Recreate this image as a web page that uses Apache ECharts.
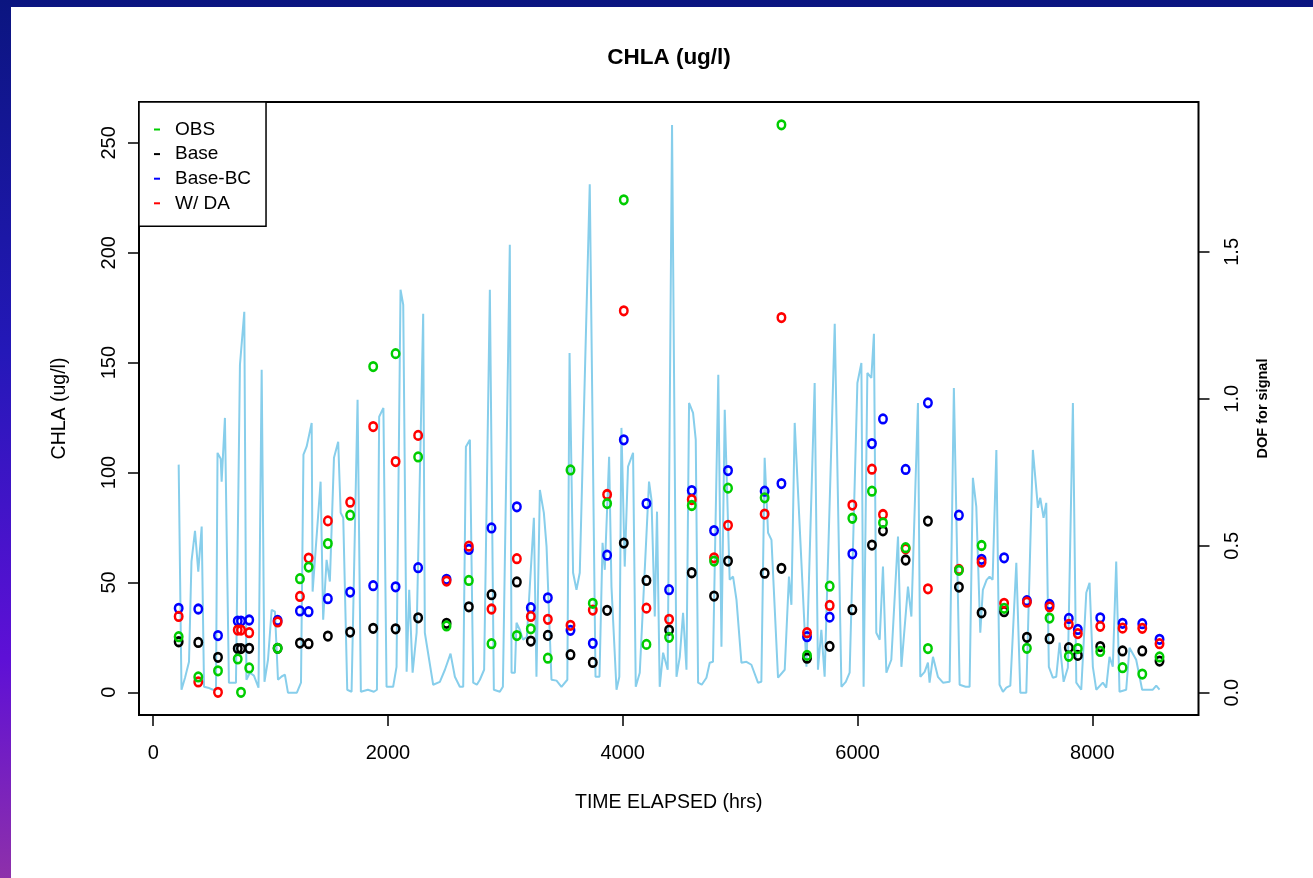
<!DOCTYPE html>
<html>
<head>
<meta charset="utf-8">
<script src="https://cdn.jsdelivr.net/npm/echarts@6/dist/echarts.min.js"></script>
<style>
html,body{margin:0;padding:0;}
#chart{width:1313px;height:878px;}
</style>
</head>
<body>
<div id="chart"></div>
<script>
// Observation times (hours elapsed)
const timeHrs = [217,384,552,720,748,818,1060,1250,1324,1488,1678,1874,2065,2257,2499,2689,2882,3098,3217,3362,3555,3745,3867,4009,4202,4395,4588,4778,4897,5209,5352,5570,5763,5956,6123,6217,6410,6600,6864,7057,7249,7443,7636,7800,7877,8068,8258,8426,8573];
const obs = [25.3,7.0,9.8,15.2,0.0,11.1,20.0,51.7,57.0,67.7,80.6,148.2,154.1,107.1,30.2,50.9,22.1,25.8,28.9,15.5,101.2,40.5,85.9,224.1,21.8,25.0,85.0,59.7,92.9,88.5,258.2,16.8,48.3,79.2,91.5,77.1,65.8,19.9,55.5,66.8,38.2,20.0,33.8,16.4,19.9,18.6,11.2,8.3,16.1];
const base = [23.0,22.7,15.9,19.9,19.9,20.0,20.0,22.4,22.1,25.6,27.4,29.1,28.9,33.9,31.4,38.9,44.4,50.2,23.3,25.9,17.1,13.6,37.3,67.9,50.9,28.3,54.4,43.8,59.7,54.2,56.4,15.5,20.9,37.6,67.0,73.5,60.2,77.9,47.9,36.2,36.7,25.0,24.4,20.3,16.8,20.8,18.8,18.8,14.2];
const baseBC = [38.2,37.9,25.8,32.4,32.4,32.9,32.7,37.0,36.7,42.6,45.6,48.5,48.0,56.7,51.4,65.0,74.8,84.4,38.5,43.0,28.2,22.3,62.4,114.9,85.9,46.7,91.8,73.6,100.9,91.5,95.0,25.3,34.2,63.0,113.2,124.4,101.4,131.7,80.6,60.5,61.2,41.7,40.0,33.6,28.6,33.9,31.4,31.2,24.1];
const withDA = [34.5,4.7,0.0,28.3,28.3,27.1,32.0,43.6,61.1,78.0,86.5,120.9,105.0,116.9,50.6,66.5,37.9,60.8,34.5,33.2,30.5,37.4,90.0,173.6,38.3,33.2,87.7,61.2,76.0,81.1,170.5,27.1,39.5,85.2,101.5,80.9,65.3,47.1,55.9,59.2,40.5,41.0,38.9,30.9,26.7,30.0,29.2,29.1,22.1];

// DOF for signal (right axis)
const dofTime = [217,241,271,305,326,356,384,413,433,467,509,535,548,575,583,611,645,705,739,776,794,824,858,897,924,948,978,1009,1037,1063,1094,1122,1148,1224,1259,1280,1307,1350,1358,1426,1448,1477,1505,1540,1576,1597,1619,1653,1690,1741,1769,1829,1880,1906,1925,1961,1988,2044,2073,2107,2130,2159,2181,2210,2244,2300,2314,2385,2442,2485,2533,2570,2612,2641,2664,2698,2726,2757,2783,2819,2868,2902,2953,2979,3038,3053,3081,3095,3123,3151,3183,3243,3265,3294,3328,3351,3393,3436,3478,3528,3547,3577,3606,3634,3719,3768,3802,3828,3847,3884,3904,3947,3971,3989,4017,4045,4088,4111,4145,4224,4245,4273,4292,4315,4344,4383,4420,4458,4486,4514,4543,4565,4599,4622,4642,4673,4713,4741,4769,4814,4841,4869,4911,4940,4969,5011,5054,5096,5152,5181,5209,5238,5267,5323,5380,5416,5437,5465,5565,5635,5663,5692,5720,5771,5806,5863,5900,5933,5999,6033,6052,6084,6118,6140,6160,6189,6217,6246,6288,6345,6374,6430,6459,6515,6535,6572,6600,6614,6643,6685,6728,6785,6821,6870,6921,6955,6983,7012,7046,7068,7100,7125,7151,7183,7210,7239,7268,7302,7324,7353,7387,7438,7494,7537,7557,7585,7608,7630,7664,7693,7722,7756,7792,7835,7864,7906,7949,7977,8005,8034,8090,8119,8147,8175,8204,8232,8289,8317,8374,8425,8516,8545,8573];
const dofValue = [0.776,0.010,0.051,0.105,0.446,0.551,0.412,0.565,0.020,0.017,0.010,0.010,0.816,0.796,0.718,0.935,0.034,0.034,1.116,1.296,0.044,0.068,0.058,0.017,1.099,0.037,0.112,0.282,0.276,0.044,0.055,0.061,0.0,0.0,0.034,0.810,0.837,0.918,0.344,0.718,0.248,0.452,0.378,0.799,0.854,0.612,0.595,0.010,0.003,0.997,0.003,0.010,0.003,0.010,0.939,0.969,0.020,0.020,0.088,1.371,1.320,0.071,0.350,0.068,0.204,1.289,0.204,0.027,0.037,0.078,0.133,0.054,0.020,0.020,0.837,0.861,0.034,0.027,0.044,0.078,1.371,0.010,0.003,0.020,1.524,0.068,0.068,0.238,0.214,0.180,0.190,0.595,0.054,0.690,0.612,0.497,0.044,0.041,0.020,0.044,1.156,0.408,0.350,0.408,1.730,0.054,0.054,0.510,0.418,0.803,0.361,0.010,0.054,0.901,0.429,0.769,0.816,0.020,0.068,0.718,0.656,0.259,0.616,0.020,0.136,0.078,1.932,0.054,0.122,0.272,0.078,0.986,0.952,0.861,0.034,0.027,0.051,0.102,0.105,1.082,0.156,0.963,0.384,0.395,0.316,0.102,0.105,0.095,0.034,0.037,0.799,0.544,0.520,0.051,0.078,0.395,0.299,0.918,0.088,1.054,0.078,0.214,0.054,0.758,1.255,0.020,0.037,0.068,1.054,1.122,0.020,1.088,1.071,1.221,0.204,0.180,0.429,0.068,0.112,0.531,0.088,0.361,0.259,0.986,0.054,0.071,0.102,0.034,0.122,0.054,0.034,0.037,1.037,0.027,0.020,0.020,0.731,0.633,0.204,0.350,0.384,0.395,0.384,0.826,0.027,0.003,0.017,0.024,0.204,0.442,0.0,0.0,0.826,0.629,0.663,0.595,0.646,0.088,0.051,0.054,0.170,0.037,0.085,0.986,0.034,0.010,0.340,0.374,0.088,0.010,0.034,0.017,0.122,0.088,0.446,0.003,0.010,0.153,0.112,0.010,0.010,0.024,0.010];

// Tick labels
const xTicks = [0, 2000, 4000, 6000, 8000];
const yTicks = [0, 50, 100, 150, 200, 250];
const dofTicks = [0, 0.5, 1.0, 1.5];

const FONT = '"Liberation Sans", Arial, Helvetica, sans-serif';
const COL = { OBS: '#00CD00', Base: '#000000', 'Base-BC': '#0000FF', 'W/ DA': '#FF0000' };

function pts(ys) { return timeHrs.map((t, i) => [t, ys[i]]); }
function scatter(name, ys) {
  return {
    name: name, type: 'scatter', yAxisIndex: 0, data: pts(ys),
    symbol: 'circle', symbolSize: [7.5, 8.5],
    itemStyle: { color: 'rgba(0,0,0,0)', borderColor: COL[name], borderWidth: 2.6, opacity: 1 },
    z: 5, silent: true, animation: false
  };
}

const chart = echarts.init(document.getElementById('chart'), null, { renderer: 'canvas' });
chart.setOption({
  animation: false,
  backgroundColor: {
    type: 'linear', x: 0, y: 0, x2: 0, y2: 1,
    colorStops: [
      { offset: 0, color: '#0b1580' },
      { offset: 0.4, color: '#2418b8' },
      { offset: 0.75, color: '#5e10d6' },
      { offset: 1, color: '#8e30aa' }
    ]
  },
  graphic: [{
    type: 'rect', z: -10, silent: true,
    shape: { x: 11, y: 7, width: 1313 - 11, height: 878 - 7 },
    style: { fill: '#ffffff' }
  }],
  title: {
    text: 'CHLA (ug/l)', left: 664, top: 41, textAlign: 'center',
    textStyle: { fontFamily: FONT, fontSize: 22.5, fontWeight: 'bold', color: '#000' }
  },
  legend: {
    orient: 'vertical', left: 139, top: 102,
    data: ['OBS', 'Base', 'Base-BC', 'W/ DA'].map(n => ({ name: n, itemStyle: { color: COL[n], borderWidth: 0, opacity: 1 } })),
    icon: 'rect', itemWidth: 6, itemHeight: 2, itemGap: 5.6,
    padding: [18, 15, 13.5, 15],
    borderColor: '#000', borderWidth: 1.5, backgroundColor: '#fff',
    selectedMode: false,
    textStyle: { fontFamily: FONT, fontSize: 19, color: '#000', lineHeight: 19, padding: [0, 0, 0, 10] }
  },
  grid: {
    left: 139, right: 114.5, top: 102, bottom: 163,
    show: true, borderColor: '#000', borderWidth: 2, backgroundColor: 'transparent'
  },
  xAxis: {
    type: 'value', min: -121, max: 8905,
    name: 'TIME ELAPSED (hrs)', nameLocation: 'middle', nameGap: 78,
    nameTextStyle: { fontFamily: FONT, fontSize: 19.5, color: '#000' },
    axisLine: { show: false, onZero: false },
    axisTick: { show: true, length: 11, customValues: xTicks, lineStyle: { color: '#000', width: 1.5 } },
    axisLabel: { customValues: xTicks, margin: 28, fontFamily: FONT, fontSize: 20, color: '#000',
      formatter: v => String(Math.round(v)) },
    splitLine: { show: false }
  },
  yAxis: [{
    type: 'value', position: 'left', min: -10.33, max: 268.6,
    name: 'CHLA (ug/l)', nameLocation: 'middle', nameGap: 69,
    nameTextStyle: { fontFamily: FONT, fontSize: 19.5, color: '#000' },
    axisLine: { show: false, onZero: false },
    axisTick: { show: true, length: 11, customValues: yTicks, lineStyle: { color: '#000', width: 1.5 } },
    axisLabel: { customValues: yTicks, rotate: 90, margin: 20, fontFamily: FONT, fontSize: 20, color: '#000',
      formatter: v => String(Math.round(v)) },
    splitLine: { show: false }
  }, {
    type: 'value', position: 'right', min: -0.076, max: 2.01,
    name: 'DOF for signal', nameLocation: 'middle', nameGap: 57,
    nameTextStyle: { fontFamily: FONT, fontSize: 14.5, fontWeight: 'bold', color: '#000' },
    axisLine: { show: false, onZero: false },
    axisTick: { show: true, length: 11, customValues: dofTicks, lineStyle: { color: '#000', width: 1.5 } },
    axisLabel: { customValues: dofTicks, rotate: 90, margin: 24, fontFamily: FONT, fontSize: 20, color: '#000',
      formatter: v => Number(v).toFixed(1) },
    splitLine: { show: false }
  }],
  series: [
    {
      name: 'DOF', type: 'line', yAxisIndex: 1,
      data: dofTime.map((t, i) => [t, dofValue[i]]),
      showSymbol: false, symbol: 'none',
      lineStyle: { color: '#87CEEB', width: 2 },
      z: 2, silent: true, animation: false
    },
    scatter('Base', base),
    scatter('Base-BC', baseBC),
    scatter('W/ DA', withDA),
    scatter('OBS', obs)
  ]
});
</script>
</body>
</html>
